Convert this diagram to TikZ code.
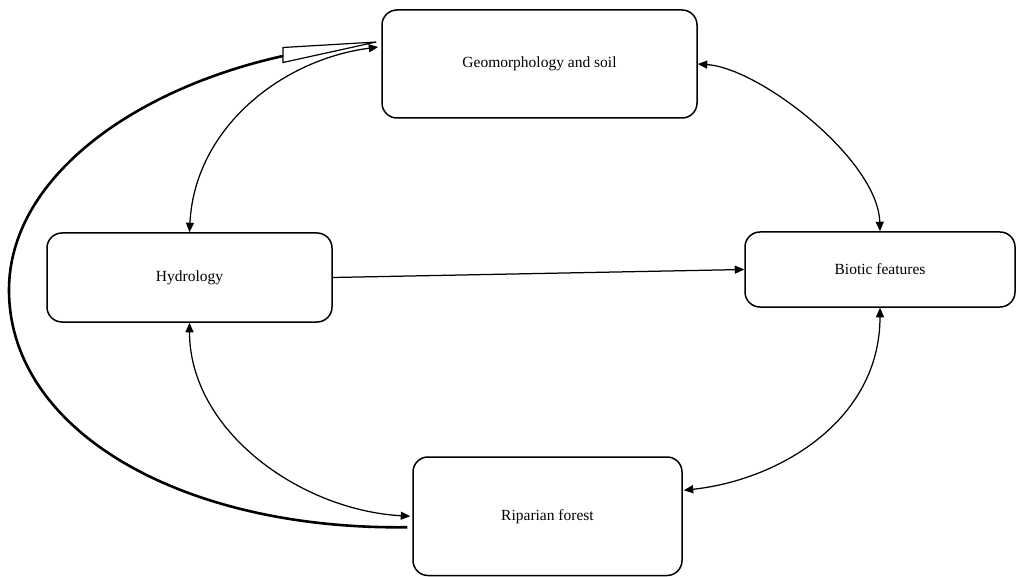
\documentclass[tikz,border=0pt]{standalone}
\usepackage{fontspec}
\setmainfont{Liberation Serif}
\usetikzlibrary{arrows.meta,calc}
\begin{document}
\begin{tikzpicture}[x=1pt,y=-1pt,
  box/.style={draw, line width=1.5pt, rounded corners=15pt, inner sep=0pt,
    font=\fontsize{15.5}{18}\selectfont, align=center},
  link/.style={line width=1.25pt, {Triangle[length=9.5pt,width=8pt]}-{Triangle[length=9.5pt,width=8pt]}},
  oneway/.style={line width=1.25pt, -{Triangle[length=9.5pt,width=8pt]}},
  thickline/.style={line width=2.6pt},
  wedge/.style={draw, line width=1.2pt, fill=white, line join=miter}]
\useasboundingbox (0,0) rectangle (1017,577);
\fill[white] (0,0) rectangle (1017,577);

\node[box, minimum width=315pt, minimum height=108pt] (geo) at (539.5,64) {Geomorphology and soil};
\node[box, minimum width=285pt, minimum height=89pt] (hyd) at (189.5,277.5) {Hydrology};
\node[box, minimum width=270pt, minimum height=75pt] (bio) at (880,269.5) {Biotic features};
\node[box, minimum width=269pt, minimum height=118.5pt] (rip) at (547.5,516.25) {Riparian forest};

% Geomorphology <-> Hydrology
\draw[link] (hyd.north) .. controls ($(hyd.north)+(5,-103)$) and (280,60) .. ($(geo.west)+(-3,-17)$);
% Geomorphology <-> Biotic
\draw[link] (geo.east) .. controls (760,68) and (878,160) .. (bio.north);
% Hydrology -> Biotic
\draw[oneway] (hyd.east) -- (bio.west);
% Hydrology <-> Riparian
\draw[link] (hyd.south) .. controls ($(hyd.south)+(0,108)$) and (300,510) .. ($(rip.west)+(-2,0)$);
% Biotic <-> Riparian
\draw[link] (bio.south) .. controls ($(bio.south)+(0,112)$) and (780,480) .. ($(rip.east)+(1,-26)$);

% Thick feedback curve from Riparian forest to Geomorphology
\coordinate (wbase) at (283,56);
\coordinate (wtip) at ($(geo.west)+(-5,-22)$);
\draw[thickline] ($(rip.west)+(-5,11)$) .. controls (180,530) and (9,430) .. (9,290)
  .. controls (9,180) and (130,90) .. (wbase);
\draw[wedge] (wtip) -- (283,47.5) -- (283,62.5) -- cycle;
\end{tikzpicture}
\end{document}
